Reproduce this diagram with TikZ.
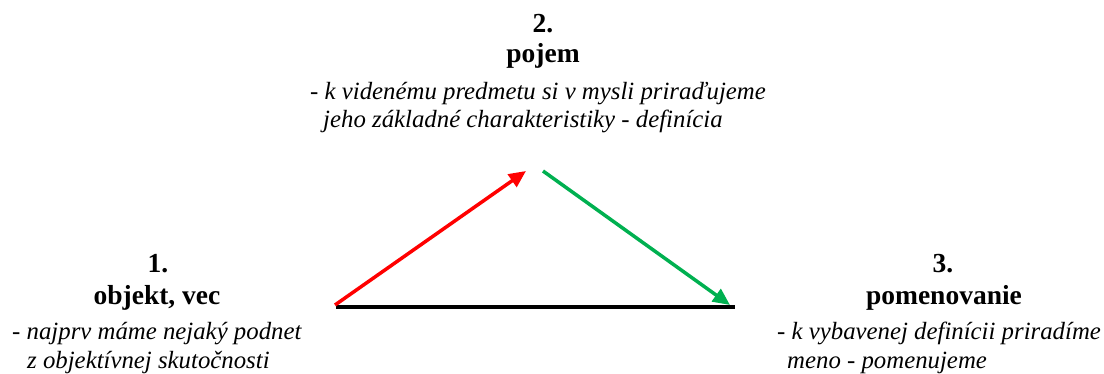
\documentclass[tikz,border=0pt]{standalone}
\usepackage{fontspec}
\setmainfont{Liberation Serif}
\usetikzlibrary{arrows.meta}
\definecolor{arrred}{RGB}{255,0,0}
\definecolor{arrgreen}{RGB}{0,176,80}
\tikzset{
  title/.style={anchor=base,inner sep=0pt,font=\fontsize{27.5}{32}\selectfont\bfseries},
  desc/.style={anchor=base west,inner sep=0pt,font=\fontsize{24.8}{30}\selectfont\itshape},
  conn/.style={line width=3.5pt,-{Triangle[length=17pt,width=15pt]}},
}
\begin{document}
\begin{tikzpicture}[x=1pt,y=-1pt]
\useasboundingbox (0,0) rectangle (1104,374);
% node 2
\node[title] (n2num) at (543,33) {2.};
\node[title] (n2name) at (543,63) {pojem};
\node[desc] (d2a) at (310,100) {- k videnému predmetu si v mysli priraďujeme};
\node[desc] (d2b) at (323,128) {jeho základné charakteristiky - definícia};
% node 1
\node[title] (n1num) at (158,273) {1.};
\node[title] (n1name) at (157,305) {objekt, vec};
\node[desc] (d1a) at (12,340) {- najprv máme nejaký podnet};
\node[desc] (d1b) at (27,368) {z objektívnej skutočnosti};
% node 3
\node[title] (n3num) at (943,273) {3.};
\node[title] (n3name) at (944,305) {pomenovanie};
\node[desc] (d3a) at (777,340) {- k vybavenej definícii priradíme};
\node[desc] (d3b) at (787,368) {meno - pomenujeme};
% connector points
\coordinate (a1) at (335,305);
\coordinate (a2) at (526,171);
\coordinate (b1) at (543,171);
\coordinate (b2) at (730,305);
\coordinate (c1) at (336,307.5);
\coordinate (c2) at (735,307.5);
\draw[line width=4pt] (c1) -- (c2);
\draw[conn,arrred] (a1) -- (a2);
\draw[conn,arrgreen] (b1) -- (b2);
\end{tikzpicture}
\end{document}
